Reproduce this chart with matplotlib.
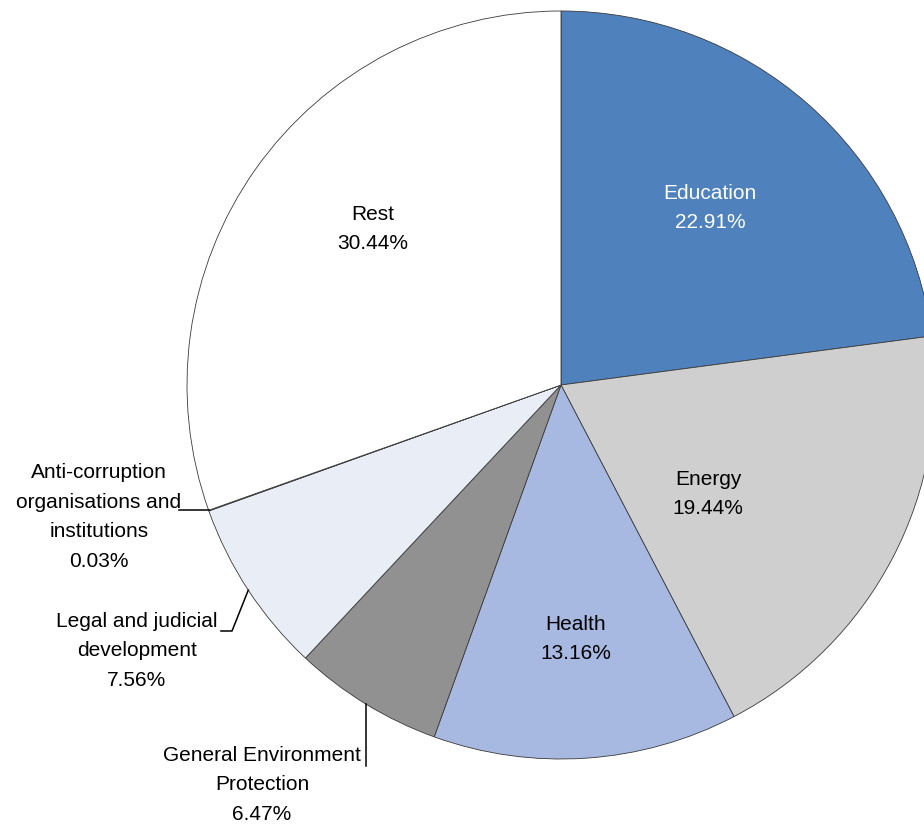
import numpy as np
import matplotlib.pyplot as plt

plt.rcParams['font.family'] = ['Liberation Sans', 'DejaVu Sans']

# sector shares in percent, clockwise from 12 o'clock
sectors = ['Education', 'Energy', 'Health', 'General Environment\nProtection',
           'Legal and judicial\ndevelopment',
           'Anti-corruption\norganisations and\ninstitutions', 'Rest']
shares = [22.91, 19.44, 13.16, 6.47, 7.56, 0.03, 30.44]
colors = ['#4F81BD', '#CFCFCF', '#A7B8E1', '#919191', '#E9EDF6', '#E9EDF6', '#FFFFFF']
text_colors = ['white', 'black', 'black', 'black', 'black', 'black', 'black']

W, H = 924, 825
cx, cy, R = 561, H - 385, 374
LS = 1.72

fig = plt.figure(figsize=(W / 100, H / 100), dpi=100)
ax = fig.add_axes([0, 0, 1, 1])

wedges, _ = ax.pie(shares, colors=colors, startangle=90, counterclock=False,
                   center=(cx, cy), radius=R, frame=True,
                   wedgeprops=dict(edgecolor='#3a3a3a', linewidth=0.6))
ax.set_xlim(0, W)
ax.set_ylim(0, H)
ax.set_aspect('equal')
ax.axis('off')

labels = [f'{s}\n{v:.2f}%' for s, v in zip(sectors, shares)]

# label centres inside the big slices
inside = {0: (710, 208), 1: (708, 494), 2: (576, 639), 6: (373, 229)}
for i, (px, py) in inside.items():
    ax.text(px, H - py, labels[i], ha='center', va='center', fontsize=15,
            color=text_colors[i], linespacing=LS)

def edge_point(i):
    start = 90 - 3.6 * sum(shares[:i])
    mid = np.deg2rad(start - 1.8 * shares[i])
    return cx + R * np.cos(mid), cy + R * np.sin(mid)

# outside labels with leader lines
# anti-corruption
ex, ey = edge_point(5)
ax.plot([179, ex], [ey, ey], color='black', lw=1.1)
ax.text(99, H - 517, labels[5], ha='center', va='center', fontsize=15,
        linespacing=LS)

# legal and judicial
ex, ey = edge_point(4)
ax.plot([221, 232, ex], [H - 631, H - 631, ey], color='black', lw=1.1)
ax.text(137, H - 651, labels[4], ha='center', va='center', fontsize=15,
        linespacing=LS)

# general environment
ex, ey = edge_point(3)
ax.plot([ex, ex], [ey, H - 766], color='black', lw=1.1)
ax.text(262, H - 785, labels[3], ha='center', va='center', fontsize=15,
        linespacing=LS)

fig.savefig('out.png', dpi=100, facecolor='white')
